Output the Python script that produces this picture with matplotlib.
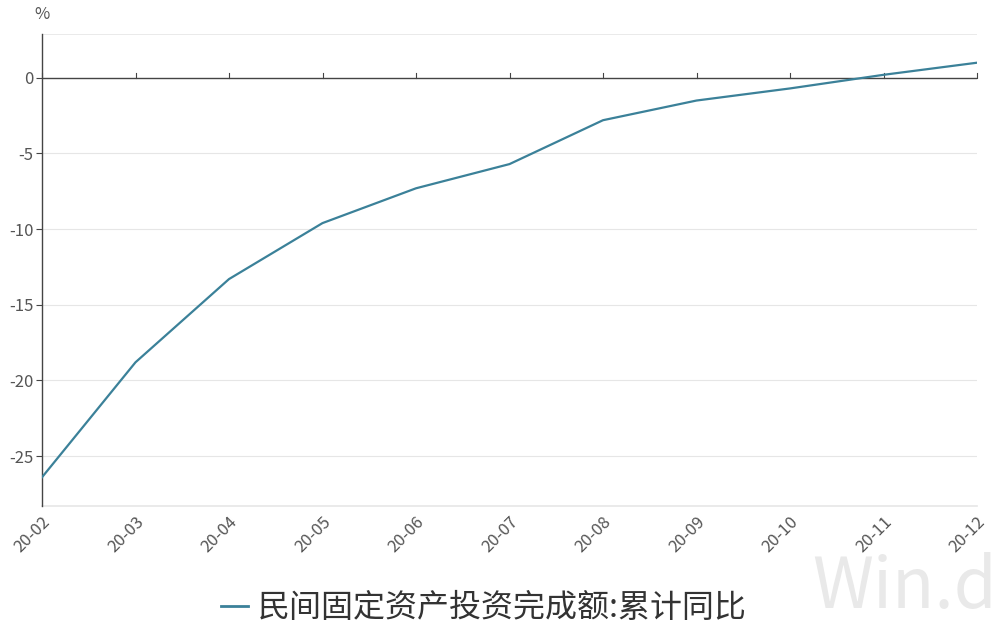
import matplotlib
matplotlib.use("Agg")
import matplotlib.pyplot as plt
from matplotlib.lines import Line2D

plt.rcParams['font.family'] = ['Noto Sans CJK SC', 'DejaVu Sans']

categories = ["20-02", "20-03", "20-04", "20-05", "20-06", "20-07",
              "20-08", "20-09", "20-10", "20-11", "20-12"]
values = [-26.4, -18.8, -13.3, -9.6, -7.3, -5.7, -2.8, -1.5, -0.7, 0.2, 1.0]
yticks = [0, -5, -10, -15, -20, -25]
series_name = "民间固定资产投资完成额:累计同比"

line_color = "#3b8199"
text_color = "#555555"
grid_color = "#e6e6e6"
axis_color = "#444444"

fig = plt.figure(figsize=(10, 6.29), dpi=100)
ax = fig.add_axes([0.042, 0.1955, 0.935, 0.7505])

x = list(range(len(categories)))
ax.plot(x, values, color=line_color, lw=1.6, zorder=3)

ax.set_xlim(0, len(categories) - 1)
ax.set_ylim(-28.3, 2.9)

for s in ['top', 'right', 'bottom']:
    ax.spines[s].set_visible(False)
ax.spines['left'].set_color(axis_color)
ax.spines['left'].set_linewidth(1.0)

ax.set_yticks(yticks)
ax.set_yticklabels([str(v) for v in yticks])
for v in yticks:
    if v != 0:
        ax.axhline(v, color=grid_color, lw=0.8, zorder=0)
ax.axhline(2.9, color=grid_color, lw=1.2, zorder=0)
ax.axhline(-28.3, color=grid_color, lw=1.2, zorder=0, clip_on=False)
ax.axhline(0, color=axis_color, lw=1.0, zorder=2)
for xi in x:
    ax.plot([xi, xi], [0, 0.35], color=axis_color, lw=0.8, zorder=2, clip_on=False)

ax.tick_params(axis='y', colors=axis_color, labelcolor=text_color, labelsize=12,
               length=4, width=0.8, direction='out', pad=2)
ax.set_xticks(x)
ax.set_xticklabels(categories, rotation=45, ha='right', rotation_mode='anchor')
ax.tick_params(axis='x', length=0, labelcolor=text_color, labelsize=12, pad=5)

fig.text(0.042, 0.99, "%", ha='center', va='top', fontsize=12, color=text_color)

handle = Line2D([0], [0], color=line_color, lw=2)
fig.legend([handle], [series_name], loc='center', bbox_to_anchor=(0.484, 0.033),
           frameon=False, fontsize=23, handlelength=0.85, handletextpad=0.3,
           labelcolor='#333333')

fig.text(0.997, 0.008, "Win.d", fontsize=50, color='#e9e9e9', ha='right', va='bottom',
         fontweight='medium', zorder=0)

fig.savefig("out.png", dpi=100, facecolor='white')
